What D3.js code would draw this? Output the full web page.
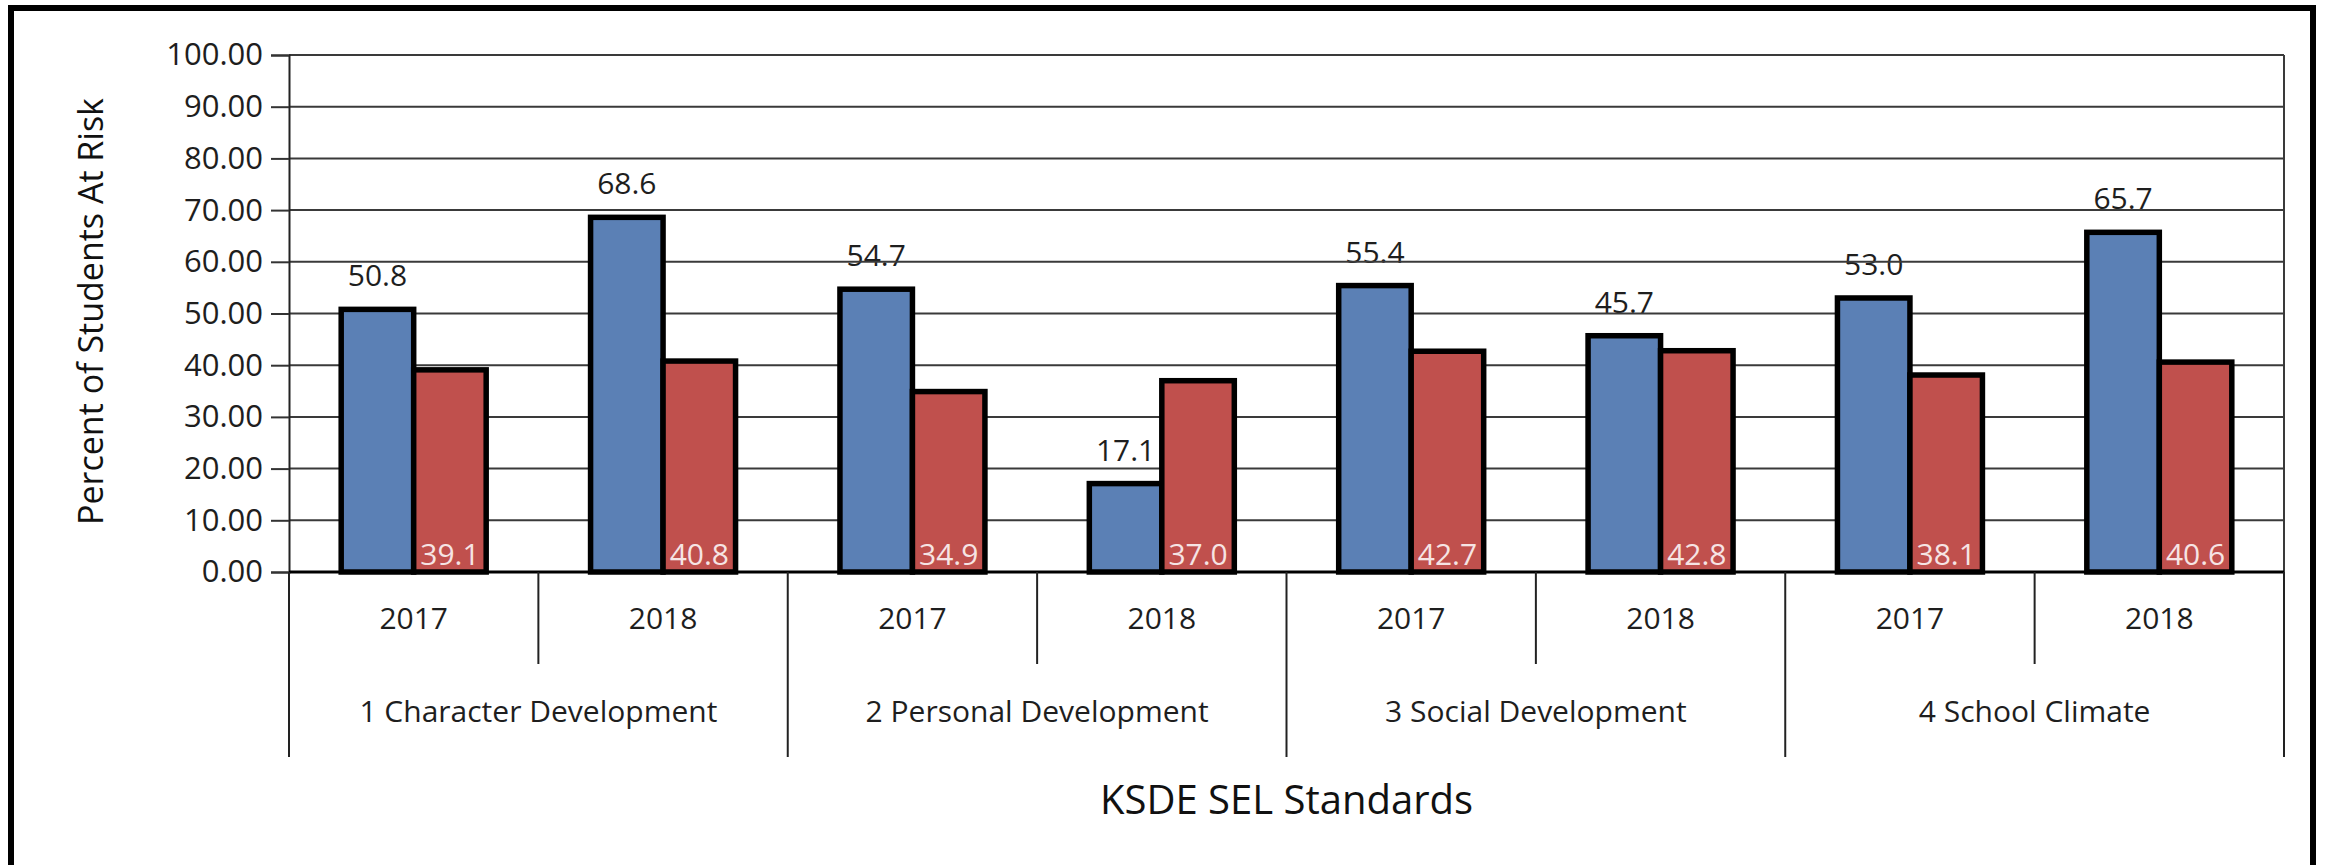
<!DOCTYPE html>
<html><head><meta charset="utf-8">
<script src="https://cdn.jsdelivr.net/npm/d3@7/dist/d3.min.js"></script>
<style>
html,body{margin:0;padding:0;background:#fff;}
svg{display:block;font-family:"Open Sans",sans-serif;}
</style></head>
<body>
<svg id="c" width="2331" height="865"></svg>
<script>
const groups = ["1 Character Development", "2 Personal Development", "3 Social Development", "4 School Climate"];
const years = ["2017", "2018"];
const seriesA = [50.8, 68.6, 54.7, 17.1, 55.4, 45.7, 53.0, 65.7];
const seriesB = [39.1, 40.8, 34.9, 37.0, 42.7, 42.8, 38.1, 40.6];
const yTicks = [0, 10, 20, 30, 40, 50, 60, 70, 80, 90, 100];
const yTitle = "Percent of Students At Risk";
const xTitle = "KSDE SEL Standards";

const svg = d3.select("#c");
const L = 289, R = 2284, T = 55, B = 572;

const slots = [];
groups.forEach(g => years.forEach(yr => slots.push(g + "|" + yr)));

const x = d3.scaleBand().domain(slots).range([L, R]).padding(0);
const xg = d3.scaleBand().domain(groups).range([L, R]).padding(0);
const x1 = d3.scaleBand().domain(["A", "B"]).range([0, x.bandwidth()]).paddingInner(0).paddingOuter(0.72);
const y = d3.scaleLinear().domain([0, 100]).range([B, T]);

// border
svg.append("rect").attr("x", 11).attr("y", 8).attr("width", 2302).attr("height", 900)
  .attr("fill", "none").attr("stroke", "#000").attr("stroke-width", 6);

// blue data labels (drawn under gridlines)
svg.append("g").selectAll("text").data(seriesA).join("text")
  .attr("x", (d, i) => x(slots[i]) + x1("A") + x1.bandwidth() / 2)
  .attr("y", d => y(d) - 23)
  .attr("text-anchor", "middle")
  .attr("font-size", 30).attr("fill", "#1e1e1e")
  .text(d => d.toFixed(1));

// gridlines
svg.append("g").selectAll("line").data(yTicks).join("line")
  .attr("x1", L).attr("x2", R).attr("y1", d => y(d)).attr("y2", d => y(d))
  .attr("stroke", "#3a3a3a").attr("stroke-width", 2);
// right frame line
svg.append("line").attr("x1", R).attr("x2", R).attr("y1", y(100)).attr("y2", y(0))
  .attr("stroke", "#3a3a3a").attr("stroke-width", 2);

// y axis
const yAxis = d3.axisLeft(y).tickValues(yTicks).tickFormat(d3.format(".2f")).tickSize(18).tickPadding(8);
const ga = svg.append("g").attr("transform", `translate(${L},0)`).call(yAxis);
ga.select(".domain").attr("stroke", "#222").attr("stroke-width", 2);
ga.selectAll(".tick line").attr("stroke", "#333").attr("stroke-width", 2);
ga.selectAll(".tick text").attr("font-size", 31).attr("fill", "#1e1e1e").attr("font-family", "Open Sans");

// bars
const bars = svg.append("g");
bars.selectAll("rect.a").data(seriesA).join("rect").attr("class", "a")
  .attr("x", (d, i) => x(slots[i]) + x1("A")).attr("width", x1.bandwidth())
  .attr("y", d => y(d)).attr("height", d => y(0) - y(d))
  .attr("fill", "#5b80b5").attr("stroke", "#000").attr("stroke-width", 5.5);
bars.selectAll("rect.b").data(seriesB).join("rect").attr("class", "b")
  .attr("x", (d, i) => x(slots[i]) + x1("B")).attr("width", x1.bandwidth())
  .attr("y", d => y(d)).attr("height", d => y(0) - y(d))
  .attr("fill", "#c0504d").attr("stroke", "#000").attr("stroke-width", 5.5);

// red labels inside base
svg.append("g").selectAll("text").data(seriesB).join("text")
  .attr("x", (d, i) => x(slots[i]) + x1("B") + x1.bandwidth() / 2)
  .attr("y", y(0) - 7)
  .attr("text-anchor", "middle")
  .attr("font-size", 30).attr("fill", "#f6e4e4")
  .text(d => d.toFixed(1));

// x axis line
svg.append("line").attr("x1", L).attr("x2", R).attr("y1", y(0)).attr("y2", y(0))
  .attr("stroke", "#000").attr("stroke-width", 3);

// x axis multi-level dividers
const xa = svg.append("g");
xa.selectAll("line.in").data(groups).join("line").attr("class", "in")
  .attr("x1", g => xg(g) + xg.bandwidth() / 2).attr("x2", g => xg(g) + xg.bandwidth() / 2)
  .attr("y1", B).attr("y2", 664).attr("stroke", "#222").attr("stroke-width", 2);
const edges = groups.map(g => xg(g)).concat([R]);
xa.selectAll("line.out").data(edges).join("line").attr("class", "out")
  .attr("x1", d => d).attr("x2", d => d)
  .attr("y1", B).attr("y2", 757).attr("stroke", "#222").attr("stroke-width", 2);

xa.selectAll("text.yr").data(slots).join("text").attr("class", "yr")
  .attr("x", s => x(s) + x.bandwidth() / 2).attr("y", 629)
  .attr("text-anchor", "middle").attr("font-size", 30).attr("fill", "#1e1e1e")
  .text(s => s.split("|")[1]);
xa.selectAll("text.gr").data(groups).join("text").attr("class", "gr")
  .attr("x", g => xg(g) + xg.bandwidth() / 2).attr("y", 722)
  .attr("text-anchor", "middle").attr("font-size", 30).attr("fill", "#1e1e1e")
  .text(g => g);

// titles
svg.append("text").attr("x", (L + R) / 2).attr("y", 814).attr("text-anchor", "middle")
  .attr("font-size", 40).attr("fill", "#111").text(xTitle);
svg.append("text").attr("transform", `translate(103,${(T + B) / 2 - 2}) rotate(-90)`)
  .attr("text-anchor", "middle").attr("font-size", 34).attr("fill", "#111").text(yTitle);
</script>
</body></html>
